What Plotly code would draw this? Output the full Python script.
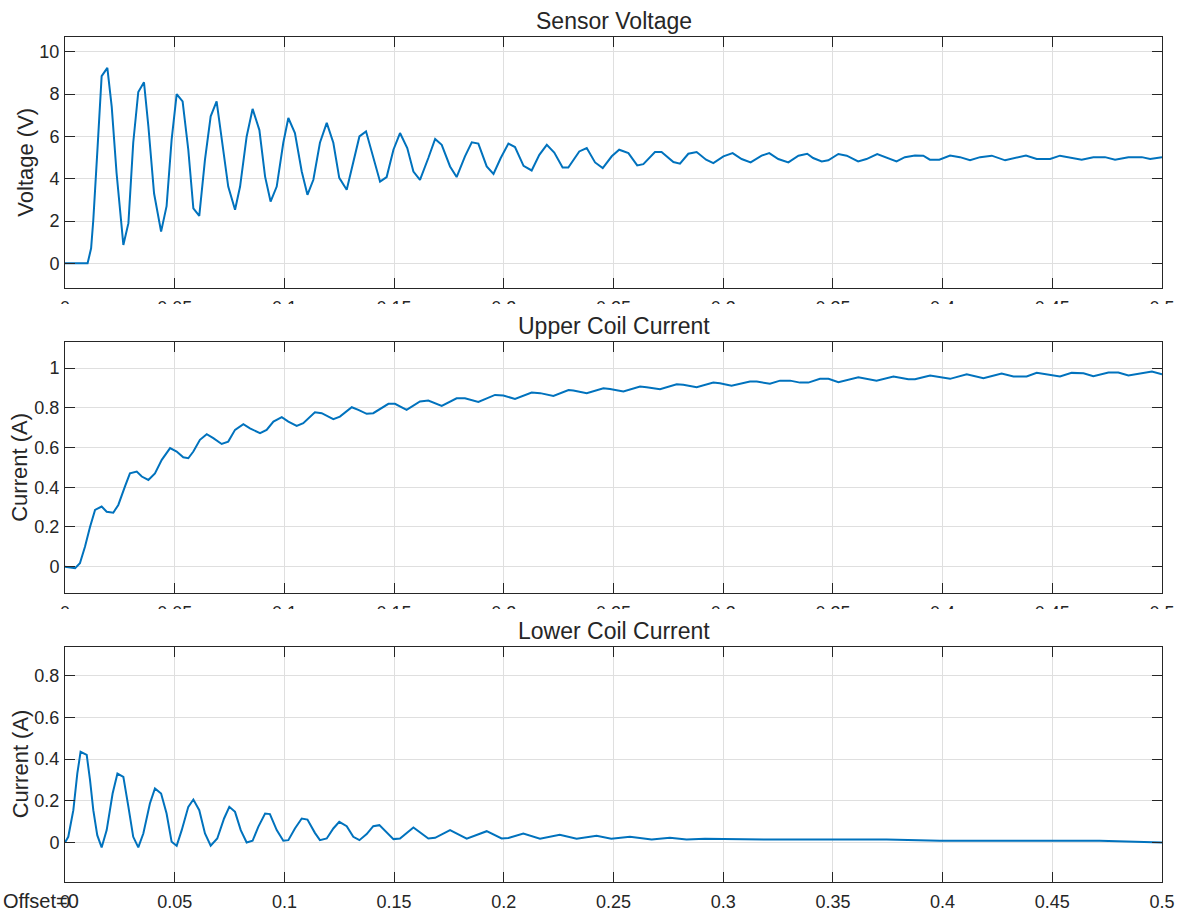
import plotly.graph_objects as go

# ---------------- data ----------------
volt_t = [0, 0.0103, 0.0119, 0.0129, 0.0148, 0.0167, 0.0193, 0.0213, 0.0235, 0.0266,
          0.0289, 0.0311, 0.0334, 0.036, 0.038, 0.0406, 0.0438, 0.0463, 0.0486, 0.0509,
          0.0536, 0.0562, 0.0585, 0.0612, 0.0638, 0.0664, 0.0691, 0.0714, 0.0744, 0.0775,
          0.0798, 0.0828, 0.0855, 0.0886, 0.0912, 0.0937, 0.0965, 0.0995, 0.1018, 0.1048,
          0.1079, 0.1105, 0.1132, 0.1162, 0.1193, 0.1223, 0.125, 0.1284, 0.1314, 0.1342,
          0.1372, 0.1405, 0.1436, 0.1466, 0.1497, 0.1527, 0.156, 0.1588, 0.1618, 0.1656,
          0.1687, 0.1717, 0.1755, 0.1785, 0.1823, 0.1854, 0.1884, 0.1922, 0.1953, 0.1986,
          0.2021, 0.2051, 0.209, 0.2127, 0.2162, 0.2196, 0.223, 0.2268, 0.2294, 0.2344,
          0.2378, 0.2416, 0.2451, 0.2492, 0.2526, 0.2568, 0.2608, 0.2636, 0.2689, 0.2719,
          0.2773, 0.2803, 0.2841, 0.2879, 0.2922, 0.2955, 0.3001, 0.3043, 0.3084, 0.3125,
          0.3175, 0.321, 0.3251, 0.3297, 0.3343, 0.3383, 0.341, 0.3449, 0.3479, 0.3525,
          0.3563, 0.3615, 0.3653, 0.3702, 0.3752, 0.379, 0.3828, 0.3874, 0.3912, 0.3942,
          0.3985, 0.4034, 0.4079, 0.4125, 0.4171, 0.4224, 0.4285, 0.433, 0.438, 0.4429,
          0.449, 0.4535, 0.4588, 0.4634, 0.4687, 0.474, 0.4786, 0.4847, 0.4908, 0.4946, 0.5]
volt_v = [0, 0, 0.71, 2.05, 5.4, 8.85, 9.24, 7.4, 4.27, 0.87,
          1.9, 5.7, 8.1, 8.56, 6.48, 3.3, 1.5, 2.7, 5.85, 8.0,
          7.66, 5.37, 2.6, 2.24, 4.9, 6.95, 7.66, 6.0, 3.63, 2.53,
          3.63, 6.0, 7.3, 6.3, 4.1, 2.92, 3.63, 5.7, 6.87, 6.16,
          4.34, 3.24, 3.95, 5.7, 6.64, 5.7, 4.04, 3.48, 4.74, 6.0,
          6.24, 5.05, 3.86, 4.08, 5.37, 6.16, 5.45, 4.34, 3.95, 4.98,
          5.88, 5.6, 4.58, 4.08, 5.06, 5.72, 5.66, 4.58, 4.23, 4.98,
          5.66, 5.5, 4.61, 4.39, 5.13, 5.6, 5.24, 4.53, 4.53, 5.29,
          5.45, 4.77, 4.5, 5.06, 5.37, 5.21, 4.63, 4.69, 5.26, 5.26,
          4.79, 4.71, 5.18, 5.26, 4.9, 4.74, 5.06, 5.21, 4.93, 4.77,
          5.09, 5.21, 4.93, 4.77, 5.09, 5.18, 4.98, 4.82, 4.87, 5.17,
          5.09, 4.82, 4.93, 5.17, 4.98, 4.82, 5.02, 5.1, 5.09, 4.9,
          4.9, 5.1, 5.02, 4.87, 5.02, 5.09, 4.87, 4.98, 5.1, 4.93,
          4.93, 5.09, 4.98, 4.9, 5.02, 5.02, 4.9, 5.02, 5.02, 4.93, 5.02]

upper_t = [0, 0.0023, 0.0046, 0.0068, 0.0091, 0.0114, 0.0137, 0.0167, 0.019, 0.022,
           0.0243, 0.0273, 0.0296, 0.0327, 0.035, 0.038, 0.041, 0.0441, 0.0479, 0.0509,
           0.0539, 0.0562, 0.0585, 0.0615, 0.0646, 0.0676, 0.0714, 0.0744, 0.0775, 0.0813,
           0.0843, 0.0889, 0.0919, 0.095, 0.0988, 0.1018, 0.1056, 0.1086, 0.1139, 0.117,
           0.1223, 0.1253, 0.1307, 0.1337, 0.1375, 0.1405, 0.1474, 0.1504, 0.1557, 0.1618,
           0.1656, 0.1717, 0.1785, 0.1823, 0.1884, 0.196, 0.1998, 0.2051, 0.2127, 0.2166,
           0.2226, 0.2295, 0.2317, 0.2378, 0.2454, 0.2484, 0.2545, 0.2621, 0.2651, 0.2712,
           0.2788, 0.2818, 0.2879, 0.2955, 0.2985, 0.3038, 0.3122, 0.3153, 0.3213, 0.3259,
           0.3305, 0.335, 0.3388, 0.3441, 0.348, 0.3525, 0.3616, 0.3699, 0.3776, 0.3844,
           0.3874, 0.3943, 0.4034, 0.411, 0.4186, 0.4269, 0.4323, 0.4383, 0.4429, 0.4535,
           0.4588, 0.4642, 0.4687, 0.4756, 0.4801, 0.4847, 0.4908, 0.4954, 0.5]
upper_i = [0, -0.005, -0.008, 0.017, 0.10, 0.20, 0.286, 0.303, 0.277, 0.272,
           0.311, 0.403, 0.47, 0.479, 0.454, 0.437, 0.47, 0.538, 0.597, 0.58,
           0.551, 0.546, 0.58, 0.639, 0.667, 0.647, 0.618, 0.63, 0.689, 0.718,
           0.697, 0.672, 0.689, 0.731, 0.753, 0.731, 0.709, 0.723, 0.778, 0.773,
           0.743, 0.756, 0.803, 0.79, 0.77, 0.773, 0.82, 0.82, 0.79, 0.832,
           0.837, 0.81, 0.848, 0.848, 0.83, 0.865, 0.862, 0.845, 0.877, 0.874,
           0.86, 0.89, 0.887, 0.874, 0.899, 0.895, 0.882, 0.907, 0.904, 0.894,
           0.919, 0.916, 0.904, 0.927, 0.924, 0.911, 0.932, 0.932, 0.921, 0.937,
           0.937, 0.927, 0.927, 0.946, 0.946, 0.929, 0.954, 0.937, 0.958, 0.944,
           0.944, 0.963, 0.946, 0.969, 0.949, 0.973, 0.958, 0.958, 0.976, 0.958,
           0.976, 0.974, 0.959, 0.978, 0.978, 0.963, 0.974, 0.983, 0.969]

lower_t = [0, 0.0015, 0.0038, 0.0056, 0.0071, 0.0099, 0.0114, 0.0129, 0.0147, 0.0167,
           0.019, 0.0217, 0.0239, 0.0266, 0.0289, 0.0311, 0.0334, 0.0357, 0.0387, 0.041,
           0.0438, 0.0463, 0.0486, 0.0509, 0.0532, 0.0562, 0.0585, 0.0612, 0.0638, 0.0664,
           0.0694, 0.0725, 0.0749, 0.0775, 0.0801, 0.0828, 0.0855, 0.0881, 0.0912, 0.0934,
           0.0965, 0.0995, 0.1018, 0.1048, 0.1079, 0.1105, 0.1139, 0.1162, 0.1193, 0.1223,
           0.125, 0.1284, 0.1314, 0.1342, 0.1375, 0.1405, 0.1433, 0.1466, 0.1497, 0.1527,
           0.1588, 0.1656, 0.1687, 0.1755, 0.1831, 0.1922, 0.199, 0.2021, 0.2089, 0.2165,
           0.2255, 0.2332, 0.2423, 0.249, 0.2575, 0.2674, 0.2757, 0.2833, 0.2917, 0.3001,
           0.3259, 0.3745, 0.3988, 0.4413, 0.4716, 0.5]
lower_i = [0, 0.027, 0.155, 0.33, 0.435, 0.42, 0.3, 0.155, 0.035, -0.024,
           0.059, 0.235, 0.331, 0.315, 0.171, 0.027, -0.024, 0.043, 0.187, 0.259,
           0.235, 0.139, 0.003, -0.016, 0.059, 0.171, 0.206, 0.155, 0.043, -0.016,
           0.019, 0.115, 0.171, 0.147, 0.059, 0.0, 0.008, 0.075, 0.139, 0.136,
           0.059, 0.008, 0.011, 0.067, 0.115, 0.11, 0.046, 0.011, 0.019, 0.067,
           0.099, 0.078, 0.027, 0.011, 0.04, 0.078, 0.083, 0.046, 0.016, 0.019,
           0.072, 0.019, 0.022, 0.059, 0.018, 0.054, 0.019, 0.021, 0.043, 0.018,
           0.037, 0.018, 0.032, 0.018, 0.027, 0.014, 0.022, 0.014, 0.018, 0.016,
           0.014, 0.014, 0.008, 0.008, 0.008, 0.0]

x_ticks = [0, 0.05, 0.1, 0.15, 0.2, 0.25, 0.3, 0.35, 0.4, 0.45, 0.5]
x_ticktext = ["0", "0.05", "0.1", "0.15", "0.2", "0.25", "0.3", "0.35", "0.4", "0.45", "0.5"]
volt_ticks = [0, 2, 4, 6, 8, 10]
upper_ticks = [0, 0.2, 0.4, 0.6, 0.8, 1]
lower_ticks = [0, 0.2, 0.4, 0.6, 0.8]

titles = ["Sensor Voltage", "Upper Coil Current", "Lower Coil Current"]
ylabels = ["Voltage (V)", "Current (A)", "Current (A)"]

# ---------------- layout geometry ----------------
W, H = 1179, 912
ML, MR, MT, MB = 65, 17, 37, 30
PH = H - MT - MB


def py(pix):
    """pixel row -> paper y"""
    return (H - MB - pix) / PH


domains = [[py(288.3), 1.0], [py(593.3), py(342.3)], [0.0, py(646.7)]]
yranges = [[-1.18, 10.7], [-0.134, 1.13], [-0.19, 0.94]]
yticks = [volt_ticks, upper_ticks, lower_ticks]

FONT = "Liberation Sans, Arial, Helvetica, sans-serif"
INK = "#262626"
LINE = "#0072BD"
GRID = "#dfdfdf"

fig = go.Figure()
series = [(volt_t, volt_v), (upper_t, upper_i), (lower_t, lower_i)]
for k, (xs, ys) in enumerate(series):
    sfx = "" if k == 0 else str(k + 1)
    fig.add_trace(go.Scatter(x=xs, y=ys, mode="lines",
                             line=dict(color=LINE, width=2),
                             xaxis="x" + sfx, yaxis="y" + sfx,
                             showlegend=False, hoverinfo="x+y"))

axis_common = dict(showline=True, linecolor=INK, linewidth=1, mirror="ticks",
                   ticks="inside", ticklen=10, tickcolor=INK, tickwidth=1,
                   showgrid=True, gridcolor=GRID, gridwidth=1, zeroline=False,
                   automargin=False,
                   tickfont=dict(family=FONT, size=18, color=INK))

layout = dict(width=W, height=H, margin=dict(l=ML, r=MR, t=MT, b=MB, autoexpand=False),
              paper_bgcolor="white", plot_bgcolor="white",
              font=dict(family=FONT, color=INK), showlegend=False)

annotations = []
shapes = []
title_pix = [21, 326, 631]
for k in range(3):
    sfx = "" if k == 0 else str(k + 1)
    layout["xaxis" + sfx] = dict(axis_common, domain=[0, 1], range=[0, 0.5],
                                 tickvals=x_ticks, ticktext=x_ticktext,
                                 anchor="y" + sfx, ticklabelstandoff=3)
    layout["yaxis" + sfx] = dict(axis_common, domain=domains[k], range=yranges[k],
                                 tickvals=yticks[k], anchor="x" + sfx,
                                 ticklabelstandoff=1)
    annotations.append(dict(text=titles[k], xref="paper", yref="paper",
                            x=0.5, y=py(title_pix[k]), xanchor="center", yanchor="middle",
                            showarrow=False, font=dict(family=FONT, size=23, color=INK)))
    centre = (domains[k][0] + domains[k][1]) / 2
    lab_x = [26, 20, 20][k]
    annotations.append(dict(text=ylabels[k], xref="paper", yref="paper",
                            x=(lab_x - ML) / (W - ML - MR), y=centre,
                            xanchor="center", yanchor="middle", textangle=-90,
                            showarrow=False, font=dict(family=FONT, size=22, color=INK)))

# Offset note in the lower-left corner
annotations.append(dict(text="Offset=0", xref="paper", yref="paper",
                        x=(1 - ML) / (W - ML - MR), y=py(901), xanchor="left",
                        yanchor="middle", showarrow=False,
                        font=dict(family=FONT, size=20, color=INK)))

# the x tick labels of the two upper panels are clipped by the panel below
for top_pix, bot_pix in [(304, 340.5), (609, 645.5)]:
    shapes.append(dict(type="rect", xref="paper", yref="paper",
                       x0=-0.1, x1=1.1, y0=py(bot_pix), y1=py(top_pix),
                       fillcolor="white", line=dict(width=0), layer="above"))

layout["annotations"] = annotations
layout["shapes"] = shapes
fig.update_layout(**layout)
# remove the browser's default page margin so the figure sits at the window origin
fig.write_html("out.html", config={"displayModeBar": False},
               post_script="document.body.style.margin='0';document.body.style.padding='0';")
